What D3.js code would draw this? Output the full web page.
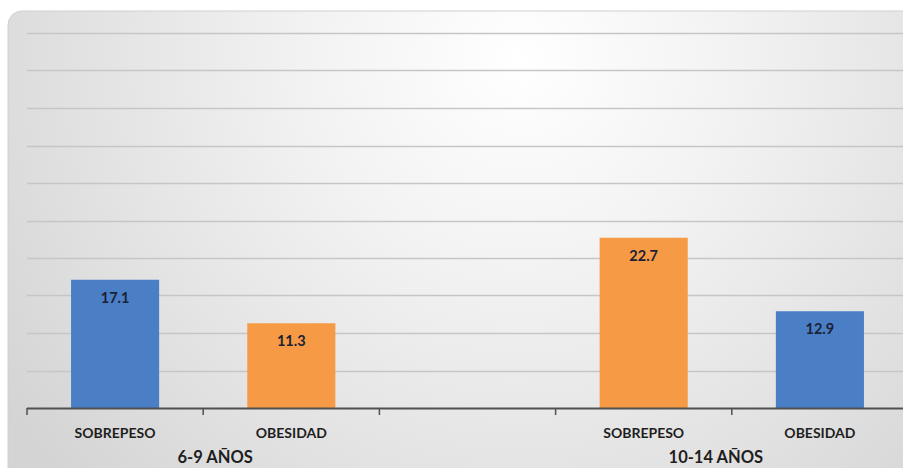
<!DOCTYPE html>
<html>
<head>
<meta charset="utf-8">
<script src="https://cdn.jsdelivr.net/npm/d3@7/dist/d3.min.js"></script>
<style>
  html, body { margin: 0; padding: 0; background: #ffffff; }
  svg { display: block; }
</style>
</head>
<body>
<svg id="chart" width="903" height="468"></svg>
<script>
// Category slots along the axis (the middle one is an empty separator)
const slots = ["s69", "o69", "gap", "s1014", "o1014"];
const categoryLabels = ["SOBREPESO", "OBESIDAD", "", "SOBREPESO", "OBESIDAD"];
const values = [17.1, 11.3, null, 22.7, 12.9];
const barColors = ["#4a7fc6", "#f79a45", null, "#f79a45", "#4a7fc6"];
const groupLabels = ["6-9 AÑOS", "10-14 AÑOS"];
const groupSlots = [["s69", "o69"], ["s1014", "o1014"]];
const groupNudge = [12, -16];
const yTicks = [5, 10, 15, 20, 25, 30, 35, 40, 45, 50];

const svg = d3.select("#chart");
const W = 903, H = 468;
const FONT = "Lato, 'Open Sans', sans-serif";

// panel background
const defs = svg.append("defs");
const grad = defs.append("radialGradient")
  .attr("id", "panelGrad")
  .attr("gradientUnits", "userSpaceOnUse")
  .attr("cx", 520).attr("cy", 60).attr("r", 620)
  .attr("fx", 520).attr("fy", 60);
grad.append("stop").attr("offset", "0%").attr("stop-color", "#ffffff");
grad.append("stop").attr("offset", "35%").attr("stop-color", "#f2f2f2");
grad.append("stop").attr("offset", "75%").attr("stop-color", "#e0e0e0");
grad.append("stop").attr("offset", "100%").attr("stop-color", "#d4d4d4");

svg.append("rect")
  .attr("x", 8).attr("y", 11)
  .attr("width", W + 20).attr("height", H + 20)
  .attr("rx", 14).attr("ry", 14)
  .attr("fill", "url(#panelGrad)")
  .attr("stroke", "#d0d0d0")
  .attr("stroke-width", 1);

// scales
const x = d3.scaleBand()
  .domain(slots)
  .range([27, 908])
  .paddingInner(0.5)
  .paddingOuter(0.25);

const y = d3.scaleLinear()
  .domain([0, 50])
  .range([408, 33]);

const step = x.step();
const x0 = x.range()[0];

// horizontal gridlines
svg.append("g")
  .selectAll("line")
  .data(yTicks)
  .join("line")
  .attr("x1", x0).attr("x2", W)
  .attr("y1", d => Math.round(y(d)) + 0.5)
  .attr("y2", d => Math.round(y(d)) + 0.5)
  .attr("stroke", "#c6c6c6")
  .attr("stroke-width", 1.6);

// bars
const rows = slots.map((k, i) => ({ key: k, value: values[i], color: barColors[i], label: categoryLabels[i] }));
const barRows = rows.filter(r => r.value != null);

svg.append("g")
  .selectAll("rect")
  .data(barRows)
  .join("rect")
  .attr("x", d => x(d.key))
  .attr("width", x.bandwidth())
  .attr("y", d => y(d.value))
  .attr("height", d => y(0) - y(d.value))
  .attr("fill", d => d.color);

// value labels inside the top of each bar
svg.append("g")
  .selectAll("text")
  .data(barRows)
  .join("text")
  .attr("x", d => x(d.key) + x.bandwidth() / 2)
  .attr("y", d => y(d.value) + 23)
  .attr("text-anchor", "middle")
  .attr("font-family", FONT)
  .attr("font-weight", "bold")
  .attr("font-size", 14.5)
  .attr("fill", "#1b2236")
  .text(d => d.value.toFixed(1));

// category axis
const axis = svg.append("g");
axis.append("line")
  .attr("x1", x0).attr("x2", W)
  .attr("y1", y(0) + 0.5).attr("y2", y(0) + 0.5)
  .attr("stroke", "#505050")
  .attr("stroke-width", 2);

axis.selectAll("line.tick")
  .data(d3.range(slots.length + 1))
  .join("line")
  .attr("class", "tick")
  .attr("x1", i => x0 + i * step)
  .attr("x2", i => x0 + i * step)
  .attr("y1", y(0))
  .attr("y2", y(0) + 7)
  .attr("stroke", "#505050")
  .attr("stroke-width", 1.5);

axis.selectAll("text.cat")
  .data(rows.filter(r => r.label))
  .join("text")
  .attr("class", "cat")
  .attr("x", d => x(d.key) + x.bandwidth() / 2)
  .attr("y", 438)
  .attr("text-anchor", "middle")
  .attr("font-family", FONT)
  .attr("font-weight", "bold")
  .attr("font-size", 14)
  .attr("fill", "#1e1e1e")
  .text(d => d.label);

axis.selectAll("text.group")
  .data(groupLabels)
  .join("text")
  .attr("class", "group")
  .attr("x", (d, i) => {
    const g = groupSlots[i];
    const a = x(g[0]), b = x(g[g.length - 1]) + x.bandwidth();
    return (a + b) / 2 + groupNudge[i];
  })
  .attr("y", 463)
  .attr("text-anchor", "middle")
  .attr("font-family", FONT)
  .attr("font-weight", "bold")
  .attr("font-size", 16.5)
  .attr("fill", "#1e1e1e")
  .text(d => d);
</script>
</body>
</html>
